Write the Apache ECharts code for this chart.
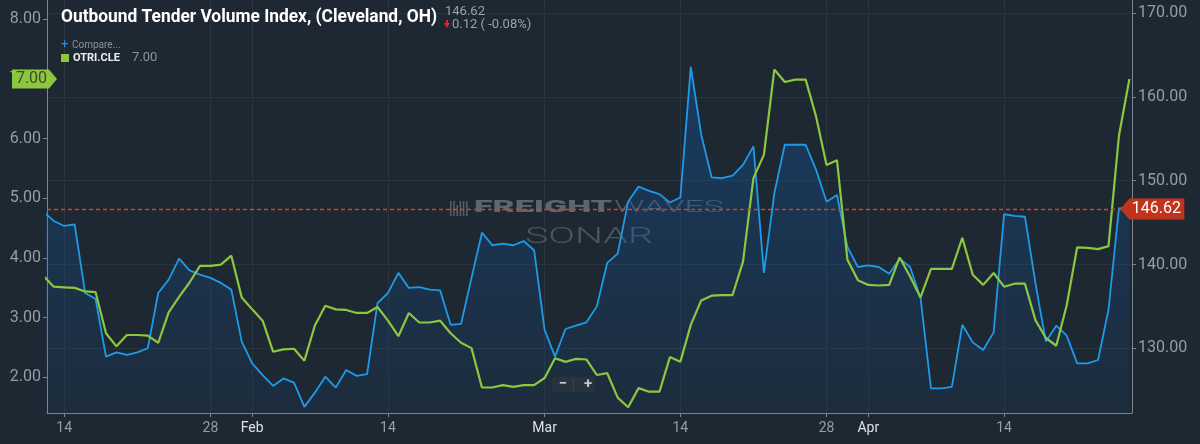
<!DOCTYPE html>
<html>
<head>
<meta charset="utf-8">
<title>Outbound Tender Volume Index, (Cleveland, OH)</title>
<script src="https://cdn.jsdelivr.net/npm/echarts@6/dist/echarts.min.js"></script>
<style>
  html, body { margin: 0; padding: 0; background: #1e2833; }
  #chart { width: 1200px; height: 444px; }
</style>
</head>
<body>
<div id="chart"></div>
<script>
"use strict";

// --- data (daily, one value per day from firstDay) ---
const firstDay = "2019-01-12";

// OTVI.CLE - Outbound Tender Volume Index (right axis, blue area)
const otviValues = [
  146.3, 145.2, 144.6, 144.8, 136.6, 135.9, 129.0, 129.5, 129.2, 129.5,
  130.0, 136.6, 138.2, 140.7, 139.3, 138.8, 138.4, 137.8, 137.0, 130.8,
  128.2, 126.8, 125.5, 126.4, 125.9, 123.0, 124.7, 126.6, 125.3, 127.4,
  126.7, 126.9, 135.4, 136.6, 139.0, 137.2, 137.3, 137.0, 136.9, 132.8,
  132.9, 138.4, 143.8, 142.3, 142.5, 142.3, 142.8, 141.7, 132.2, 129.0,
  132.3, 132.7, 133.1, 135.0, 140.2, 141.3, 147.5, 149.3, 148.8, 148.4,
  147.4, 148.0, 163.6, 155.5, 150.4, 150.3, 150.6, 151.9, 154.1, 139.0,
  148.5, 154.3, 154.3, 154.3, 151.3, 147.5, 148.3, 142.1, 139.7, 139.9,
  139.7, 138.9, 140.7, 139.7, 136.0, 125.2, 125.2, 125.4, 132.8, 130.7,
  129.8, 131.9, 146.0, 145.8, 145.7, 137.8, 130.8, 132.7, 131.5, 128.2,
  128.2, 128.6, 134.6, 146.74, 146.62,
];

// OTRI.CLE - Outbound Tender Reject Index (left axis, green line)
const otriValues = [
  3.70, 3.52, 3.51, 3.50, 3.44, 3.43, 2.74, 2.52, 2.71, 2.71,
  2.70, 2.58, 3.09, 3.35, 3.59, 3.87, 3.87, 3.89, 4.04, 3.34,
  3.14, 2.95, 2.43, 2.47, 2.48, 2.28, 2.87, 3.20, 3.14, 3.13,
  3.08, 3.08, 3.18, 2.95, 2.69, 3.08, 2.92, 2.92, 2.95, 2.74,
  2.58, 2.49, 1.83, 1.83, 1.87, 1.84, 1.87, 1.87, 1.99, 2.32,
  2.26, 2.31, 2.30, 2.04, 2.07, 1.66, 1.50, 1.82, 1.76, 1.76,
  2.34, 2.26, 2.88, 3.29, 3.37, 3.38, 3.38, 3.94, 5.34, 5.73,
  7.16, 6.95, 6.99, 6.99, 6.37, 5.56, 5.64, 3.97, 3.63, 3.55,
  3.54, 3.55, 4.01, 3.69, 3.34, 3.82, 3.82, 3.82, 4.34, 3.72,
  3.55, 3.75, 3.52, 3.57, 3.57, 2.96, 2.66, 2.53, 3.21, 4.18,
  4.17, 4.15, 4.20, 6.05, 7.00,
];

const tickDates = [
  "2019-01-14", "2019-01-28", "2019-02-01", "2019-02-14", "2019-03-01",
  "2019-03-14", "2019-03-28", "2019-04-01", "2019-04-14",
];
const monthNames = ["Jan", "Feb", "Mar", "Apr", "May", "Jun", "Jul", "Aug", "Sep", "Oct", "Nov", "Dec"];
const leftTicks = [2, 3, 4, 5, 6, 7, 8];
const rightTicks = [130, 140, 150, 160, 170];

const titleText = "Outbound Tender Volume Index, (Cleveland, OH)";
const seriesCode = "OTRI.CLE";

// --- derived ---
const DAY = 864e5;
const t0 = Date.parse(firstDay);
const days = otviValues.map((_, i) => t0 + i * DAY);
const tickTimes = tickDates.map((d) => Date.parse(d));

const lastIdx = days.length - 1;
const lastOtvi = otviValues[lastIdx];
const lastOtri = otriValues[lastIdx];
const diff = lastOtvi - otviValues[lastIdx - 1];
const changeText =
  Math.abs(diff).toFixed(2) + " ( " + (diff < 0 ? "-" : "") + Math.abs((diff / otviValues[lastIdx - 1]) * 100).toFixed(2) + "%)";

const xMin = t0 + 0.35 * DAY;
const xMax = t0 + 104.25 * DAY;

const AXIS = "#7d868f";
const LABEL = "#959da5";
const GRID = "#29343f";
const BLUE = "#1e9ae8";
const GREEN = "#8dc63f";

const ctx = document.createElement("canvas").getContext("2d");
/** stretch factor so a text fills a given width */
const fit = (text, font, width) => {
  ctx.font = font;
  return width / ctx.measureText(text).width;
};

const titleFont = "bold 19px Roboto";
const freightFont = "900 17px Roboto";
const wavesFont = "300 17px Roboto";
const sonarFont = "300 22px Roboto";

const logoBars = [0, 1, 2, 3, 4, 5].map((k) => ({
  type: "rect",
  silent: true,
  z: 1,
  shape: { x: 450 + k * 3.2, y: 201 + (k === 2 ? 4 : 0), width: 1.6, height: 15 - (k === 2 ? 4 : 0) },
  style: { fill: "#535d67" },
}));

const chart = echarts.init(document.getElementById("chart"));

chart.setOption({
  backgroundColor: "#1e2833",
  animation: false,

  grid: { left: 47, right: 68, top: 0, bottom: 31 },

  xAxis: {
    type: "value",
    min: xMin,
    max: xMax,
    axisLine: { lineStyle: { color: AXIS, width: 1 } },
    axisTick: { show: true, length: 4, customValues: tickTimes, lineStyle: { color: AXIS } },
    axisLabel: {
      customValues: tickTimes,
      color: LABEL,
      fontFamily: "Roboto",
      fontSize: 14,
      margin: 8,
      formatter: (v) => {
        const d = new Date(v);
        return d.getUTCDate() === 1 ? "{m|" + monthNames[d.getUTCMonth()] + "}" : String(d.getUTCDate());
      },
      rich: { m: { color: "#dde1e5", fontFamily: "Roboto", fontSize: 14 } },
    },
    splitLine: { show: true, lineStyle: { color: GRID } },
  },

  yAxis: [
    {
      type: "value",
      position: "left",
      min: 1.403,
      max: 8.325,
      axisLine: { show: true, lineStyle: { color: AXIS } },
      axisTick: { show: true, length: 4, customValues: leftTicks, lineStyle: { color: AXIS } },
      axisLabel: {
        customValues: leftTicks,
        color: LABEL,
        fontFamily: "Roboto",
        fontSize: 16,
        margin: 6,
        formatter: (v) => v.toFixed(2),
      },
      splitLine: { show: false },
    },
    {
      type: "value",
      position: "right",
      min: 122.27,
      max: 171.58,
      axisLine: { show: true, lineStyle: { color: AXIS } },
      axisTick: { show: true, length: 4, customValues: rightTicks, lineStyle: { color: AXIS } },
      axisLabel: {
        customValues: rightTicks,
        color: LABEL,
        fontFamily: "Roboto",
        fontSize: 16,
        margin: 6,
        formatter: (v) => v.toFixed(2),
      },
      splitLine: { show: true, lineStyle: { color: GRID } },
    },
  ],

  series: [
    {
      name: "OTVI.CLE",
      type: "line",
      yAxisIndex: 1,
      data: days.map((t, i) => [t, otviValues[i]]),
      symbol: "none",
      z: 2,
      lineStyle: { color: BLUE, width: 1.8 },
      areaStyle: {
        color: new echarts.graphic.LinearGradient(0, 0, 0, 1, [
          { offset: 0, color: "rgba(15,95,180,0.5)" },
          { offset: 1, color: "rgba(15,95,180,0.10)" },
        ]),
      },
      markLine: {
        silent: true,
        symbol: ["none", "none"],
        label: { show: false },
        lineStyle: { color: "#d0432f", type: [4, 3], width: 1.3, opacity: 1 },
        emphasis: { disabled: true },
        data: [{ yAxis: lastOtvi }],
      },
      markPoint: {
        silent: true,
        symbol: "path://M0,10L9,0L64,0L64,20L9,20Z",
        symbolSize: [64, 21],
        symbolKeepAspect: false,
        symbolOffset: [23, 0],
        itemStyle: { color: "#c0341d" },
        label: {
          show: true,
          position: "inside",
          offset: [4, 0],
          color: "#ffffff",
          fontFamily: "Roboto",
          fontSize: 16,
          formatter: () => lastOtvi.toFixed(2),
        },
        data: [{ coord: [days[lastIdx], lastOtvi] }],
      },
    },
    {
      name: seriesCode,
      type: "line",
      yAxisIndex: 0,
      data: days.map((t, i) => [t, otriValues[i]]),
      symbol: "none",
      z: 3,
      lineStyle: { color: GREEN, width: 2.2 },
      markPoint: {
        silent: true,
        symbol: "path://M0,0L37,0L45,10L37,20L0,20Z",
        symbolSize: [45, 19],
        symbolKeepAspect: false,
        symbolOffset: [-12.5, 0],
        itemStyle: { color: GREEN },
        label: {
          show: true,
          position: "inside",
          offset: [-3, 0],
          color: "#3d4b27",
          fontFamily: "Roboto",
          fontSize: 16,
          formatter: () => lastOtri.toFixed(2),
        },
        data: [{ coord: [xMin, lastOtri] }],
      },
    },
  ],

  graphic: [
    // watermark
    ...logoBars,
    {
      type: "text", silent: true, z: 1, x: 474, y: 208,
      scaleX: fit("FREIGHT", freightFont, 138),
      style: { text: "FREIGHT", font: freightFont, fill: "#5d6670", verticalAlign: "middle" },
    },
    {
      type: "text", silent: true, z: 1, x: 614, y: 208,
      scaleX: fit("WAVES", wavesFont, 110),
      style: { text: "WAVES", font: wavesFont, fill: "#505a64", verticalAlign: "middle" },
    },
    {
      type: "text", silent: true, z: 1, x: 525, y: 237,
      scaleX: fit("SONAR", sonarFont, 128),
      style: { text: "SONAR", font: sonarFont, fill: "#4b555f", verticalAlign: "middle" },
    },

    // header
    {
      type: "text", silent: true, z: 10, x: 61, y: 17,
      scaleX: fit(titleText, titleFont, 376),
      style: { text: titleText, font: titleFont, fill: "#ffffff", verticalAlign: "middle" },
    },
    {
      type: "text", silent: true, z: 10, x: 445, y: 12,
      style: { text: lastOtvi.toFixed(2), font: "13px Roboto", fill: "#9aa1a8", verticalAlign: "middle" },
    },
    {
      type: "polygon", silent: true, z: 10,
      shape: { points: [[444, 23], [450, 23], [447, 28]] },
      style: { fill: "#e3202c" },
    },
    {
      type: "rect", silent: true, z: 10,
      shape: { x: 446, y: 20, width: 2, height: 4 },
      style: { fill: "#e3202c" },
    },
    {
      type: "text", silent: true, z: 10, x: 452, y: 25,
      style: { text: changeText, font: "13px Roboto", fill: "#9aa1a8", verticalAlign: "middle" },
    },

    // legend
    {
      type: "text", silent: true, z: 10, x: 61, y: 45,
      style: { text: "+", font: "13px Roboto", fill: "#2d8ee6", verticalAlign: "middle" },
    },
    {
      type: "text", silent: true, z: 10, x: 72, y: 45,
      style: { text: "Compare...", font: "10px Roboto", fill: "#8a939c", verticalAlign: "middle" },
    },
    {
      type: "rect", silent: true, z: 10,
      shape: { x: 61, y: 54, width: 8, height: 8 },
      style: { fill: GREEN },
    },
    {
      type: "text", silent: true, z: 10, x: 73, y: 58,
      style: { text: seriesCode, font: "bold 11px Roboto", fill: "#eceef0", verticalAlign: "middle" },
    },
    {
      type: "text", silent: true, z: 10, x: 132, y: 58,
      style: { text: lastOtri.toFixed(2), font: "13px Roboto", fill: "#8a939c", verticalAlign: "middle" },
    },

    // zoom buttons
    {
      type: "rect", silent: true, z: 10,
      shape: { x: 552, y: 377, width: 43, height: 15, r: 2 },
      style: { fill: "#28333e" },
    },
    {
      type: "rect", silent: true, z: 10,
      shape: { x: 573, y: 379, width: 1, height: 11 },
      style: { fill: "#38434e" },
    },
    {
      type: "text", silent: true, z: 11, x: 563, y: 384,
      style: { text: "−", font: "bold 15px Roboto", fill: "#c5cace", align: "center", verticalAlign: "middle" },
    },
    {
      type: "text", silent: true, z: 11, x: 588, y: 384,
      style: { text: "+", font: "bold 15px Roboto", fill: "#c5cace", align: "center", verticalAlign: "middle" },
    },
  ],
});
</script>
</body>
</html>
